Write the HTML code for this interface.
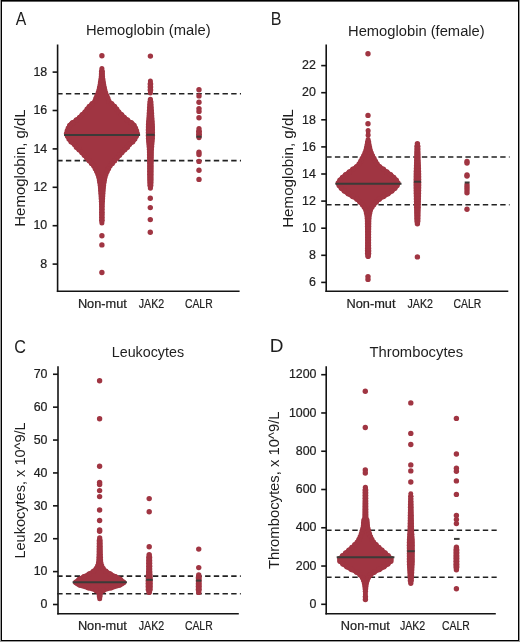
<!DOCTYPE html>
<html><head><meta charset="utf-8"><style>
html,body{margin:0;padding:0;}
body{width:520px;height:642px;background:#9a9a9a;position:relative;overflow:hidden;}
#frame{position:absolute;left:1px;top:0;width:516px;height:639px;background:#fff;border:1px solid #000;}
</style></head><body>
<div id="frame"></div><div style="position:absolute;left:2px;top:1px;width:516px;height:1px;background:#606060"></div>
<svg width="520" height="642" viewBox="0 0 520 642" style="position:absolute;left:0;top:0;will-change:transform">
<g font-family='"Liberation Sans", sans-serif' fill="#1e1e1e">
<text x="15.7" y="25.4" font-size="17.5" text-anchor="start" textLength="10.5" lengthAdjust="spacingAndGlyphs">A</text>
<text x="270.7" y="25.4" font-size="17.5" text-anchor="start" textLength="10.75" lengthAdjust="spacingAndGlyphs">B</text>
<text x="14.15" y="352.6" font-size="17.5" text-anchor="start" textLength="11.7" lengthAdjust="spacingAndGlyphs">C</text>
<text x="269.8" y="352.3" font-size="17.5" text-anchor="start" textLength="13.7" lengthAdjust="spacingAndGlyphs">D</text>
<line x1="57.6" y1="44.5" x2="57.6" y2="292.05" stroke="#141414" stroke-width="1.6"/>
<line x1="56.85" y1="291.3" x2="239.6" y2="291.3" stroke="#141414" stroke-width="1.6"/>
<line x1="52.6" y1="264.1" x2="57.6" y2="264.1" stroke="#141414" stroke-width="1.6"/>
<text x="47.2" y="267.8" font-size="12.4" text-anchor="end" stroke="#1e1e1e" stroke-width="0.22">8</text>
<line x1="52.6" y1="225.7" x2="57.6" y2="225.7" stroke="#141414" stroke-width="1.6"/>
<text x="47.2" y="229.39999999999998" font-size="12.4" text-anchor="end" stroke="#1e1e1e" stroke-width="0.22">10</text>
<line x1="52.6" y1="187.29999999999998" x2="57.6" y2="187.29999999999998" stroke="#141414" stroke-width="1.6"/>
<text x="47.2" y="190.99999999999997" font-size="12.4" text-anchor="end" stroke="#1e1e1e" stroke-width="0.22">12</text>
<line x1="52.6" y1="148.89999999999998" x2="57.6" y2="148.89999999999998" stroke="#141414" stroke-width="1.6"/>
<text x="47.2" y="152.59999999999997" font-size="12.4" text-anchor="end" stroke="#1e1e1e" stroke-width="0.22">14</text>
<line x1="52.6" y1="110.5" x2="57.6" y2="110.5" stroke="#141414" stroke-width="1.6"/>
<text x="47.2" y="114.2" font-size="12.4" text-anchor="end" stroke="#1e1e1e" stroke-width="0.22">16</text>
<line x1="52.6" y1="72.1" x2="57.6" y2="72.1" stroke="#141414" stroke-width="1.6"/>
<text x="47.2" y="75.8" font-size="12.4" text-anchor="end" stroke="#1e1e1e" stroke-width="0.22">18</text>
<text x="148.25" y="35.3" font-size="14.7" text-anchor="middle" textLength="124.7" lengthAdjust="spacingAndGlyphs">Hemoglobin (male)</text>
<text x="24.6" y="168.0" font-size="14.7" text-anchor="middle" textLength="117.4" lengthAdjust="spacingAndGlyphs" transform="rotate(-90 24.6 168.0)">Hemoglobin, g/dL</text>
<text x="102.4" y="308.0" font-size="12.5" text-anchor="middle" textLength="49" lengthAdjust="spacingAndGlyphs" stroke="#1e1e1e" stroke-width="0.22">Non-mut</text>
<text x="151.5" y="308.0" font-size="12.5" text-anchor="middle" textLength="25.4" lengthAdjust="spacingAndGlyphs" stroke="#1e1e1e" stroke-width="0.22">JAK2</text>
<text x="198.8" y="308.0" font-size="12.5" text-anchor="middle" textLength="27.7" lengthAdjust="spacingAndGlyphs" stroke="#1e1e1e" stroke-width="0.22">CALR</text>
<line x1="326.2" y1="44.5" x2="326.2" y2="292.05" stroke="#141414" stroke-width="1.6"/>
<line x1="325.45" y1="291.3" x2="508.3" y2="291.3" stroke="#141414" stroke-width="1.6"/>
<line x1="321.2" y1="282.4" x2="326.2" y2="282.4" stroke="#141414" stroke-width="1.6"/>
<text x="315.8" y="286.09999999999997" font-size="12.4" text-anchor="end" stroke="#1e1e1e" stroke-width="0.22">6</text>
<line x1="321.2" y1="255.3" x2="326.2" y2="255.3" stroke="#141414" stroke-width="1.6"/>
<text x="315.8" y="259.0" font-size="12.4" text-anchor="end" stroke="#1e1e1e" stroke-width="0.22">8</text>
<line x1="321.2" y1="228.20000000000002" x2="326.2" y2="228.20000000000002" stroke="#141414" stroke-width="1.6"/>
<text x="315.8" y="231.9" font-size="12.4" text-anchor="end" stroke="#1e1e1e" stroke-width="0.22">10</text>
<line x1="321.2" y1="201.1" x2="326.2" y2="201.1" stroke="#141414" stroke-width="1.6"/>
<text x="315.8" y="204.79999999999998" font-size="12.4" text-anchor="end" stroke="#1e1e1e" stroke-width="0.22">12</text>
<line x1="321.2" y1="174.0" x2="326.2" y2="174.0" stroke="#141414" stroke-width="1.6"/>
<text x="315.8" y="177.7" font-size="12.4" text-anchor="end" stroke="#1e1e1e" stroke-width="0.22">14</text>
<line x1="321.2" y1="146.9" x2="326.2" y2="146.9" stroke="#141414" stroke-width="1.6"/>
<text x="315.8" y="150.6" font-size="12.4" text-anchor="end" stroke="#1e1e1e" stroke-width="0.22">16</text>
<line x1="321.2" y1="119.8" x2="326.2" y2="119.8" stroke="#141414" stroke-width="1.6"/>
<text x="315.8" y="123.5" font-size="12.4" text-anchor="end" stroke="#1e1e1e" stroke-width="0.22">18</text>
<line x1="321.2" y1="92.69999999999999" x2="326.2" y2="92.69999999999999" stroke="#141414" stroke-width="1.6"/>
<text x="315.8" y="96.39999999999999" font-size="12.4" text-anchor="end" stroke="#1e1e1e" stroke-width="0.22">20</text>
<line x1="321.2" y1="65.6" x2="326.2" y2="65.6" stroke="#141414" stroke-width="1.6"/>
<text x="315.8" y="69.3" font-size="12.4" text-anchor="end" stroke="#1e1e1e" stroke-width="0.22">22</text>
<text x="416.35" y="35.5" font-size="14.7" text-anchor="middle" textLength="136.7" lengthAdjust="spacingAndGlyphs">Hemoglobin (female)</text>
<text x="292.9" y="168.5" font-size="14.7" text-anchor="middle" textLength="118.6" lengthAdjust="spacingAndGlyphs" transform="rotate(-90 292.9 168.5)">Hemoglobin, g/dL</text>
<text x="371.0" y="308.0" font-size="12.5" text-anchor="middle" textLength="49" lengthAdjust="spacingAndGlyphs" stroke="#1e1e1e" stroke-width="0.22">Non-mut</text>
<text x="420.2" y="308.0" font-size="12.5" text-anchor="middle" textLength="25.4" lengthAdjust="spacingAndGlyphs" stroke="#1e1e1e" stroke-width="0.22">JAK2</text>
<text x="467.4" y="308.0" font-size="12.5" text-anchor="middle" textLength="27.7" lengthAdjust="spacingAndGlyphs" stroke="#1e1e1e" stroke-width="0.22">CALR</text>
<line x1="58.0" y1="366.3" x2="58.0" y2="614.55" stroke="#141414" stroke-width="1.6"/>
<line x1="57.25" y1="613.8" x2="238.8" y2="613.8" stroke="#141414" stroke-width="1.6"/>
<line x1="53.0" y1="604.5" x2="58.0" y2="604.5" stroke="#141414" stroke-width="1.6"/>
<text x="47.5" y="608.2" font-size="12.4" text-anchor="end" stroke="#1e1e1e" stroke-width="0.22">0</text>
<line x1="53.0" y1="571.61" x2="58.0" y2="571.61" stroke="#141414" stroke-width="1.6"/>
<text x="47.5" y="575.3100000000001" font-size="12.4" text-anchor="end" stroke="#1e1e1e" stroke-width="0.22">10</text>
<line x1="53.0" y1="538.72" x2="58.0" y2="538.72" stroke="#141414" stroke-width="1.6"/>
<text x="47.5" y="542.4200000000001" font-size="12.4" text-anchor="end" stroke="#1e1e1e" stroke-width="0.22">20</text>
<line x1="53.0" y1="505.83" x2="58.0" y2="505.83" stroke="#141414" stroke-width="1.6"/>
<text x="47.5" y="509.53" font-size="12.4" text-anchor="end" stroke="#1e1e1e" stroke-width="0.22">30</text>
<line x1="53.0" y1="472.94" x2="58.0" y2="472.94" stroke="#141414" stroke-width="1.6"/>
<text x="47.5" y="476.64" font-size="12.4" text-anchor="end" stroke="#1e1e1e" stroke-width="0.22">40</text>
<line x1="53.0" y1="440.04999999999995" x2="58.0" y2="440.04999999999995" stroke="#141414" stroke-width="1.6"/>
<text x="47.5" y="443.74999999999994" font-size="12.4" text-anchor="end" stroke="#1e1e1e" stroke-width="0.22">50</text>
<line x1="53.0" y1="407.15999999999997" x2="58.0" y2="407.15999999999997" stroke="#141414" stroke-width="1.6"/>
<text x="47.5" y="410.85999999999996" font-size="12.4" text-anchor="end" stroke="#1e1e1e" stroke-width="0.22">60</text>
<line x1="53.0" y1="374.27" x2="58.0" y2="374.27" stroke="#141414" stroke-width="1.6"/>
<text x="47.5" y="377.96999999999997" font-size="12.4" text-anchor="end" stroke="#1e1e1e" stroke-width="0.22">70</text>
<text x="147.9" y="357.2" font-size="14.7" text-anchor="middle" textLength="72.3" lengthAdjust="spacingAndGlyphs">Leukocytes</text>
<text x="24.8" y="490.5" font-size="14.7" text-anchor="middle" textLength="136.2" lengthAdjust="spacingAndGlyphs" transform="rotate(-90 24.8 490.5)">Leukocytes, x 10^9/L</text>
<text x="102.4" y="630.0" font-size="12.5" text-anchor="middle" textLength="49" lengthAdjust="spacingAndGlyphs" stroke="#1e1e1e" stroke-width="0.22">Non-mut</text>
<text x="151.5" y="630.0" font-size="12.5" text-anchor="middle" textLength="25.4" lengthAdjust="spacingAndGlyphs" stroke="#1e1e1e" stroke-width="0.22">JAK2</text>
<text x="198.8" y="630.0" font-size="12.5" text-anchor="middle" textLength="27.7" lengthAdjust="spacingAndGlyphs" stroke="#1e1e1e" stroke-width="0.22">CALR</text>
<line x1="326.2" y1="366.3" x2="326.2" y2="614.55" stroke="#141414" stroke-width="1.6"/>
<line x1="325.45" y1="613.8" x2="495.8" y2="613.8" stroke="#141414" stroke-width="1.6"/>
<line x1="321.2" y1="604.3" x2="326.2" y2="604.3" stroke="#141414" stroke-width="1.6"/>
<text x="316.5" y="608.0" font-size="12.4" text-anchor="end" stroke="#1e1e1e" stroke-width="0.22">0</text>
<line x1="321.2" y1="566.034" x2="326.2" y2="566.034" stroke="#141414" stroke-width="1.6"/>
<text x="316.5" y="569.734" font-size="12.4" text-anchor="end" stroke="#1e1e1e" stroke-width="0.22">200</text>
<line x1="321.2" y1="527.7679999999999" x2="326.2" y2="527.7679999999999" stroke="#141414" stroke-width="1.6"/>
<text x="316.5" y="531.468" font-size="12.4" text-anchor="end" stroke="#1e1e1e" stroke-width="0.22">400</text>
<line x1="321.2" y1="489.50199999999995" x2="326.2" y2="489.50199999999995" stroke="#141414" stroke-width="1.6"/>
<text x="316.5" y="493.20199999999994" font-size="12.4" text-anchor="end" stroke="#1e1e1e" stroke-width="0.22">600</text>
<line x1="321.2" y1="451.236" x2="326.2" y2="451.236" stroke="#141414" stroke-width="1.6"/>
<text x="316.5" y="454.936" font-size="12.4" text-anchor="end" stroke="#1e1e1e" stroke-width="0.22">800</text>
<line x1="321.2" y1="412.9699999999999" x2="326.2" y2="412.9699999999999" stroke="#141414" stroke-width="1.6"/>
<text x="316.5" y="416.6699999999999" font-size="12.4" text-anchor="end" stroke="#1e1e1e" stroke-width="0.22">1000</text>
<line x1="321.2" y1="374.70399999999995" x2="326.2" y2="374.70399999999995" stroke="#141414" stroke-width="1.6"/>
<text x="316.5" y="378.40399999999994" font-size="12.4" text-anchor="end" stroke="#1e1e1e" stroke-width="0.22">1200</text>
<text x="416.3" y="357.3" font-size="14.7" text-anchor="middle" textLength="93.6" lengthAdjust="spacingAndGlyphs">Thrombocytes</text>
<text x="278.8" y="490.3" font-size="14.7" text-anchor="middle" textLength="157.6" lengthAdjust="spacingAndGlyphs" transform="rotate(-90 278.8 490.3)">Thrombocytes, x 10^9/L</text>
<text x="365.35" y="630.0" font-size="12.5" text-anchor="middle" textLength="49" lengthAdjust="spacingAndGlyphs" stroke="#1e1e1e" stroke-width="0.22">Non-mut</text>
<text x="412.6" y="630.0" font-size="12.5" text-anchor="middle" textLength="25.4" lengthAdjust="spacingAndGlyphs" stroke="#1e1e1e" stroke-width="0.22">JAK2</text>
<text x="455.9" y="630.0" font-size="12.5" text-anchor="middle" textLength="27.7" lengthAdjust="spacingAndGlyphs" stroke="#1e1e1e" stroke-width="0.22">CALR</text>
</g>
<line x1="57.2" y1="93.7" x2="241.0" y2="93.7" stroke="#222" stroke-width="1.6" stroke-dasharray="5.4 3.3"/>
<line x1="57.2" y1="160.6" x2="241.0" y2="160.6" stroke="#222" stroke-width="1.6" stroke-dasharray="5.4 3.3"/>
<line x1="326.2" y1="157.0" x2="509.6" y2="157.0" stroke="#222" stroke-width="1.6" stroke-dasharray="5.4 3.3"/>
<line x1="326.2" y1="204.7" x2="509.6" y2="204.7" stroke="#222" stroke-width="1.6" stroke-dasharray="5.4 3.3"/>
<line x1="57.2" y1="576.1" x2="240.8" y2="576.1" stroke="#222" stroke-width="1.6" stroke-dasharray="5.4 3.3"/>
<line x1="57.2" y1="593.7" x2="240.8" y2="593.7" stroke="#222" stroke-width="1.6" stroke-dasharray="5.4 3.3"/>
<line x1="326.2" y1="530.3" x2="496.7" y2="530.3" stroke="#222" stroke-width="1.6" stroke-dasharray="5.4 3.3"/>
<line x1="326.2" y1="577.3" x2="496.7" y2="577.3" stroke="#222" stroke-width="1.6" stroke-dasharray="5.4 3.3"/>
<g fill="#a03542">
<path d="M99.75,68.60 L99.45,76.30 L98.25,84.50 L97.05,90.00 L95.95,93.50 L94.95,95.00 L93.25,99.90 L89.45,103.20 L86.45,106.40 L84.25,109.70 L80.75,113.00 L77.65,116.20 L73.45,119.50 L69.45,122.00 L67.85,124.50 L66.35,127.50 L65.05,131.00 L64.25,135.00 L66.15,138.00 L67.85,141.20 L70.45,144.30 L73.55,146.60 L75.55,149.70 L79.35,153.00 L82.25,156.20 L85.95,160.30 L89.55,164.40 L92.45,167.70 L94.15,171.00 L95.85,174.20 L97.35,179.00 L98.55,187.20 L99.15,195.40 L99.65,203.50 L99.75,211.70 L99.75,223.00 L104.05,223.00 L104.05,211.70 L104.15,203.50 L104.65,195.40 L105.25,187.20 L106.45,179.00 L107.95,174.20 L109.65,171.00 L111.35,167.70 L114.25,164.40 L117.85,160.30 L121.55,156.20 L124.45,153.00 L128.25,149.70 L130.25,146.60 L133.35,144.30 L135.95,141.20 L137.65,138.00 L139.55,135.00 L138.75,131.00 L137.45,127.50 L135.95,124.50 L134.35,122.00 L130.35,119.50 L126.15,116.20 L123.05,113.00 L119.55,109.70 L117.35,106.40 L114.35,103.20 L110.55,99.90 L108.85,95.00 L107.85,93.50 L106.75,90.00 L105.55,84.50 L104.35,76.30 L104.05,68.60Z"/>
<circle cx="101.9" cy="68.6" r="2.5"/>
<circle cx="101.9" cy="223.0" r="2.5"/>
<circle cx="101.55" cy="71.31" r="2.61"/>
<circle cx="102.25" cy="71.31" r="2.61"/>
<circle cx="101.54" cy="74.02" r="2.70"/>
<circle cx="102.26" cy="74.02" r="2.70"/>
<circle cx="101.42" cy="76.73" r="2.70"/>
<circle cx="102.38" cy="76.73" r="2.70"/>
<circle cx="101.02" cy="79.44" r="2.70"/>
<circle cx="102.78" cy="79.44" r="2.70"/>
<circle cx="100.62" cy="82.14" r="2.70"/>
<circle cx="103.18" cy="82.14" r="2.70"/>
<circle cx="100.23" cy="84.85" r="2.70"/>
<circle cx="103.57" cy="84.85" r="2.70"/>
<circle cx="99.64" cy="87.56" r="2.70"/>
<circle cx="104.16" cy="87.56" r="2.70"/>
<circle cx="99.05" cy="90.27" r="2.70"/>
<circle cx="104.75" cy="90.27" r="2.70"/>
<circle cx="98.24" cy="92.98" r="2.70"/>
<circle cx="105.56" cy="92.98" r="2.70"/>
<circle cx="97.03" cy="95.69" r="2.70"/>
<circle cx="106.77" cy="95.69" r="2.70"/>
<circle cx="95.93" cy="98.40" r="2.70"/>
<circle cx="107.87" cy="98.40" r="2.70"/>
<circle cx="94.94" cy="101.11" r="2.70"/>
<circle cx="108.86" cy="101.11" r="2.70"/>
<circle cx="92.16" cy="103.81" r="2.70"/>
<circle cx="111.64" cy="103.81" r="2.70"/>
<circle cx="89.32" cy="106.52" r="2.70"/>
<circle cx="114.48" cy="106.52" r="2.70"/>
<circle cx="87.10" cy="109.23" r="2.70"/>
<circle cx="116.70" cy="109.23" r="2.70"/>
<circle cx="85.11" cy="111.94" r="2.70"/>
<circle cx="118.69" cy="111.94" r="2.70"/>
<circle cx="82.23" cy="114.65" r="2.70"/>
<circle cx="121.57" cy="114.65" r="2.70"/>
<circle cx="79.58" cy="117.36" r="2.70"/>
<circle cx="124.22" cy="117.36" r="2.70"/>
<circle cx="76.39" cy="120.07" r="2.70"/>
<circle cx="127.41" cy="120.07" r="2.70"/>
<circle cx="72.60" cy="122.78" r="2.70"/>
<circle cx="131.20" cy="122.78" r="2.70"/>
<circle cx="69.72" cy="125.48" r="2.70"/>
<circle cx="134.08" cy="125.48" r="2.70"/>
<circle cx="68.32" cy="128.19" r="2.70"/>
<circle cx="135.48" cy="128.19" r="2.70"/>
<circle cx="67.27" cy="130.90" r="2.70"/>
<circle cx="136.53" cy="130.90" r="2.70"/>
<circle cx="66.58" cy="133.61" r="2.70"/>
<circle cx="137.22" cy="133.61" r="2.70"/>
<circle cx="67.58" cy="136.32" r="2.70"/>
<circle cx="136.22" cy="136.32" r="2.70"/>
<circle cx="69.05" cy="139.03" r="2.70"/>
<circle cx="134.75" cy="139.03" r="2.70"/>
<circle cx="71.12" cy="141.74" r="2.70"/>
<circle cx="132.68" cy="141.74" r="2.70"/>
<circle cx="74.46" cy="144.45" r="2.70"/>
<circle cx="129.34" cy="144.45" r="2.70"/>
<circle cx="76.42" cy="147.15" r="2.70"/>
<circle cx="127.38" cy="147.15" r="2.70"/>
<circle cx="79.16" cy="149.86" r="2.70"/>
<circle cx="124.64" cy="149.86" r="2.70"/>
<circle cx="81.90" cy="152.57" r="2.70"/>
<circle cx="121.90" cy="152.57" r="2.70"/>
<circle cx="84.35" cy="155.28" r="2.70"/>
<circle cx="119.45" cy="155.28" r="2.70"/>
<circle cx="86.80" cy="157.99" r="2.70"/>
<circle cx="117.00" cy="157.99" r="2.70"/>
<circle cx="89.19" cy="160.70" r="2.70"/>
<circle cx="114.61" cy="160.70" r="2.70"/>
<circle cx="91.57" cy="163.41" r="2.70"/>
<circle cx="112.23" cy="163.41" r="2.70"/>
<circle cx="93.91" cy="166.12" r="2.70"/>
<circle cx="109.89" cy="166.12" r="2.70"/>
<circle cx="95.36" cy="168.82" r="2.70"/>
<circle cx="108.44" cy="168.82" r="2.70"/>
<circle cx="96.79" cy="171.53" r="2.70"/>
<circle cx="107.01" cy="171.53" r="2.70"/>
<circle cx="97.99" cy="174.24" r="2.70"/>
<circle cx="105.81" cy="174.24" r="2.70"/>
<circle cx="98.83" cy="176.95" r="2.70"/>
<circle cx="104.97" cy="176.95" r="2.70"/>
<circle cx="99.47" cy="179.66" r="2.70"/>
<circle cx="104.33" cy="179.66" r="2.70"/>
<circle cx="99.87" cy="182.37" r="2.70"/>
<circle cx="103.93" cy="182.37" r="2.70"/>
<circle cx="100.27" cy="185.08" r="2.70"/>
<circle cx="103.53" cy="185.08" r="2.70"/>
<circle cx="100.60" cy="187.79" r="2.70"/>
<circle cx="103.20" cy="187.79" r="2.70"/>
<circle cx="100.79" cy="190.49" r="2.70"/>
<circle cx="103.01" cy="190.49" r="2.70"/>
<circle cx="100.99" cy="193.20" r="2.70"/>
<circle cx="102.81" cy="193.20" r="2.70"/>
<circle cx="101.18" cy="195.91" r="2.70"/>
<circle cx="102.62" cy="195.91" r="2.70"/>
<circle cx="101.35" cy="198.62" r="2.70"/>
<circle cx="102.45" cy="198.62" r="2.70"/>
<circle cx="101.52" cy="201.33" r="2.70"/>
<circle cx="102.28" cy="201.33" r="2.70"/>
<circle cx="101.55" cy="204.04" r="2.59"/>
<circle cx="102.25" cy="204.04" r="2.59"/>
<circle cx="101.55" cy="206.75" r="2.56"/>
<circle cx="102.25" cy="206.75" r="2.56"/>
<circle cx="101.55" cy="209.46" r="2.53"/>
<circle cx="102.25" cy="209.46" r="2.53"/>
<circle cx="101.55" cy="212.16" r="2.50"/>
<circle cx="102.25" cy="212.16" r="2.50"/>
<circle cx="101.55" cy="214.87" r="2.50"/>
<circle cx="102.25" cy="214.87" r="2.50"/>
<circle cx="101.55" cy="217.58" r="2.50"/>
<circle cx="102.25" cy="217.58" r="2.50"/>
<circle cx="101.55" cy="220.29" r="2.50"/>
<circle cx="102.25" cy="220.29" r="2.50"/>
<circle cx="101.9" cy="55.8" r="2.7"/>
<circle cx="101.9" cy="235.7" r="2.7"/>
<circle cx="101.9" cy="244.9" r="2.7"/>
<circle cx="101.9" cy="272.5" r="2.7"/>
<circle cx="150.4" cy="56.1" r="2.7"/>
<path d="M148.25,80.90 L148.25,93.00 L152.55,93.00 L152.55,80.90Z"/>
<circle cx="150.4" cy="80.9" r="2.5"/>
<circle cx="150.4" cy="93.0" r="2.5"/>
<circle cx="150.05" cy="83.93" r="2.50"/>
<circle cx="150.75" cy="83.93" r="2.50"/>
<circle cx="150.05" cy="86.95" r="2.50"/>
<circle cx="150.75" cy="86.95" r="2.50"/>
<circle cx="150.05" cy="89.97" r="2.50"/>
<circle cx="150.75" cy="89.97" r="2.50"/>
<path d="M148.15,99.30 L147.95,102.70 L147.25,115.00 L146.70,122.30 L146.45,128.00 L146.45,136.00 L146.75,141.00 L147.55,150.00 L147.75,165.00 L147.85,180.00 L148.15,188.10 L152.65,188.10 L152.95,180.00 L153.05,165.00 L153.25,150.00 L154.05,141.00 L154.35,136.00 L154.35,128.00 L154.10,122.30 L153.55,115.00 L152.85,102.70 L152.65,99.30Z"/>
<circle cx="150.4" cy="99.3" r="2.6"/>
<circle cx="150.4" cy="188.1" r="2.6"/>
<circle cx="149.99" cy="102.08" r="2.70"/>
<circle cx="150.81" cy="102.08" r="2.70"/>
<circle cx="149.83" cy="104.85" r="2.70"/>
<circle cx="150.97" cy="104.85" r="2.70"/>
<circle cx="149.67" cy="107.62" r="2.70"/>
<circle cx="151.13" cy="107.62" r="2.70"/>
<circle cx="149.51" cy="110.40" r="2.70"/>
<circle cx="151.29" cy="110.40" r="2.70"/>
<circle cx="149.35" cy="113.17" r="2.70"/>
<circle cx="151.45" cy="113.17" r="2.70"/>
<circle cx="149.18" cy="115.95" r="2.70"/>
<circle cx="151.62" cy="115.95" r="2.70"/>
<circle cx="148.97" cy="118.72" r="2.70"/>
<circle cx="151.83" cy="118.72" r="2.70"/>
<circle cx="148.76" cy="121.50" r="2.70"/>
<circle cx="152.04" cy="121.50" r="2.70"/>
<circle cx="148.61" cy="124.27" r="2.70"/>
<circle cx="152.19" cy="124.27" r="2.70"/>
<circle cx="148.49" cy="127.05" r="2.70"/>
<circle cx="152.31" cy="127.05" r="2.70"/>
<circle cx="148.45" cy="129.82" r="2.70"/>
<circle cx="152.35" cy="129.82" r="2.70"/>
<circle cx="148.45" cy="132.60" r="2.70"/>
<circle cx="152.35" cy="132.60" r="2.70"/>
<circle cx="148.45" cy="135.38" r="2.70"/>
<circle cx="152.35" cy="135.38" r="2.70"/>
<circle cx="148.58" cy="138.15" r="2.70"/>
<circle cx="152.22" cy="138.15" r="2.70"/>
<circle cx="148.75" cy="140.93" r="2.70"/>
<circle cx="152.05" cy="140.93" r="2.70"/>
<circle cx="149.00" cy="143.70" r="2.70"/>
<circle cx="151.80" cy="143.70" r="2.70"/>
<circle cx="149.25" cy="146.47" r="2.70"/>
<circle cx="151.55" cy="146.47" r="2.70"/>
<circle cx="149.49" cy="149.25" r="2.70"/>
<circle cx="151.31" cy="149.25" r="2.70"/>
<circle cx="149.58" cy="152.03" r="2.70"/>
<circle cx="151.22" cy="152.03" r="2.70"/>
<circle cx="149.61" cy="154.80" r="2.70"/>
<circle cx="151.19" cy="154.80" r="2.70"/>
<circle cx="149.65" cy="157.57" r="2.70"/>
<circle cx="151.15" cy="157.57" r="2.70"/>
<circle cx="149.69" cy="160.35" r="2.70"/>
<circle cx="151.11" cy="160.35" r="2.70"/>
<circle cx="149.72" cy="163.12" r="2.70"/>
<circle cx="151.08" cy="163.12" r="2.70"/>
<circle cx="149.76" cy="165.90" r="2.70"/>
<circle cx="151.04" cy="165.90" r="2.70"/>
<circle cx="149.77" cy="168.68" r="2.70"/>
<circle cx="151.03" cy="168.68" r="2.70"/>
<circle cx="149.79" cy="171.45" r="2.70"/>
<circle cx="151.01" cy="171.45" r="2.70"/>
<circle cx="149.81" cy="174.22" r="2.70"/>
<circle cx="150.99" cy="174.22" r="2.70"/>
<circle cx="149.83" cy="177.00" r="2.70"/>
<circle cx="150.97" cy="177.00" r="2.70"/>
<circle cx="149.85" cy="179.77" r="2.70"/>
<circle cx="150.95" cy="179.77" r="2.70"/>
<circle cx="149.94" cy="182.55" r="2.70"/>
<circle cx="150.86" cy="182.55" r="2.70"/>
<circle cx="150.05" cy="185.32" r="2.70"/>
<circle cx="150.75" cy="185.32" r="2.70"/>
<circle cx="150.3" cy="198.3" r="2.7"/>
<circle cx="150.3" cy="207.6" r="2.7"/>
<circle cx="150.3" cy="219.6" r="2.7"/>
<circle cx="150.3" cy="232.2" r="2.7"/>
<circle cx="199.0" cy="89.8" r="2.7"/>
<circle cx="199.0" cy="95.9" r="2.7"/>
<circle cx="199.0" cy="102.3" r="2.7"/>
<circle cx="199.0" cy="108.6" r="2.7"/>
<circle cx="199.0" cy="111.4" r="2.7"/>
<circle cx="199.0" cy="117.7" r="2.7"/>
<circle cx="199.0" cy="152.2" r="2.7"/>
<circle cx="199.0" cy="154.5" r="2.7"/>
<circle cx="199.0" cy="161.4" r="2.7"/>
<circle cx="199.0" cy="170.3" r="2.7"/>
<circle cx="199.0" cy="179.4" r="2.7"/>
<path d="M196.75,128.60 L196.75,137.60 L201.25,137.60 L201.25,128.60Z"/>
<circle cx="199.0" cy="128.6" r="2.6"/>
<circle cx="199.0" cy="137.6" r="2.6"/>
<circle cx="198.65" cy="131.60" r="2.60"/>
<circle cx="199.35" cy="131.60" r="2.60"/>
<circle cx="198.65" cy="134.60" r="2.60"/>
<circle cx="199.35" cy="134.60" r="2.60"/>
<path d="M365.95,130.60 L365.95,135.30 L370.25,135.30 L370.25,130.60Z"/>
<circle cx="368.1" cy="130.6" r="2.5"/>
<circle cx="368.1" cy="135.3" r="2.5"/>
<path d="M365.95,139.40 L365.65,142.00 L365.05,145.60 L364.05,149.90 L362.55,153.70 L360.45,157.40 L358.65,160.80 L356.65,163.80 L352.25,166.90 L348.25,170.00 L344.05,173.10 L340.55,176.20 L337.85,179.20 L335.65,183.50 L337.45,186.90 L340.55,190.80 L345.15,194.60 L350.15,197.70 L355.45,200.80 L358.65,203.80 L361.65,206.90 L363.95,210.80 L365.05,215.40 L365.45,219.20 L365.55,223.80 L365.70,234.60 L365.70,246.90 L365.55,252.00 L365.65,256.30 L370.55,256.30 L370.65,252.00 L370.50,246.90 L370.50,234.60 L370.65,223.80 L370.75,219.20 L371.15,215.40 L372.25,210.80 L374.55,206.90 L377.55,203.80 L380.75,200.80 L386.05,197.70 L391.05,194.60 L395.65,190.80 L398.75,186.90 L400.55,183.50 L398.35,179.20 L395.65,176.20 L392.15,173.10 L387.95,170.00 L383.95,166.90 L379.55,163.80 L377.55,160.80 L375.75,157.40 L373.65,153.70 L372.15,149.90 L371.15,145.60 L370.55,142.00 L370.25,139.40Z"/>
<circle cx="368.1" cy="139.4" r="2.5"/>
<circle cx="368.1" cy="256.3" r="2.8"/>
<circle cx="367.65" cy="142.12" r="2.70"/>
<circle cx="368.55" cy="142.12" r="2.70"/>
<circle cx="367.21" cy="144.84" r="2.70"/>
<circle cx="368.99" cy="144.84" r="2.70"/>
<circle cx="366.67" cy="147.56" r="2.70"/>
<circle cx="369.53" cy="147.56" r="2.70"/>
<circle cx="366.03" cy="150.27" r="2.70"/>
<circle cx="370.17" cy="150.27" r="2.70"/>
<circle cx="365.03" cy="152.99" r="2.70"/>
<circle cx="371.17" cy="152.99" r="2.70"/>
<circle cx="363.81" cy="155.71" r="2.70"/>
<circle cx="372.39" cy="155.71" r="2.70"/>
<circle cx="362.27" cy="158.43" r="2.70"/>
<circle cx="373.93" cy="158.43" r="2.70"/>
<circle cx="360.82" cy="161.15" r="2.70"/>
<circle cx="375.38" cy="161.15" r="2.70"/>
<circle cx="359.14" cy="163.87" r="2.70"/>
<circle cx="377.06" cy="163.87" r="2.70"/>
<circle cx="356.66" cy="166.59" r="2.70"/>
<circle cx="379.54" cy="166.59" r="2.70"/>
<circle cx="352.85" cy="169.30" r="2.70"/>
<circle cx="383.35" cy="169.30" r="2.70"/>
<circle cx="349.34" cy="172.02" r="2.70"/>
<circle cx="386.86" cy="172.02" r="2.70"/>
<circle cx="345.65" cy="174.74" r="2.70"/>
<circle cx="390.55" cy="174.74" r="2.70"/>
<circle cx="342.50" cy="177.46" r="2.70"/>
<circle cx="393.70" cy="177.46" r="2.70"/>
<circle cx="339.90" cy="180.18" r="2.70"/>
<circle cx="396.30" cy="180.18" r="2.70"/>
<circle cx="338.29" cy="182.90" r="2.70"/>
<circle cx="397.91" cy="182.90" r="2.70"/>
<circle cx="339.18" cy="185.62" r="2.70"/>
<circle cx="397.02" cy="185.62" r="2.70"/>
<circle cx="341.34" cy="188.33" r="2.70"/>
<circle cx="394.86" cy="188.33" r="2.70"/>
<circle cx="344.39" cy="191.05" r="2.70"/>
<circle cx="391.81" cy="191.05" r="2.70"/>
<circle cx="348.23" cy="193.77" r="2.70"/>
<circle cx="387.97" cy="193.77" r="2.70"/>
<circle cx="352.73" cy="196.49" r="2.70"/>
<circle cx="383.47" cy="196.49" r="2.70"/>
<circle cx="357.00" cy="199.21" r="2.70"/>
<circle cx="379.20" cy="199.21" r="2.70"/>
<circle cx="359.88" cy="201.93" r="2.70"/>
<circle cx="376.32" cy="201.93" r="2.70"/>
<circle cx="362.51" cy="204.65" r="2.70"/>
<circle cx="373.69" cy="204.65" r="2.70"/>
<circle cx="364.36" cy="207.37" r="2.70"/>
<circle cx="371.84" cy="207.37" r="2.70"/>
<circle cx="365.84" cy="210.08" r="2.70"/>
<circle cx="370.36" cy="210.08" r="2.70"/>
<circle cx="366.50" cy="212.80" r="2.70"/>
<circle cx="369.70" cy="212.80" r="2.70"/>
<circle cx="367.08" cy="215.52" r="2.70"/>
<circle cx="369.12" cy="215.52" r="2.70"/>
<circle cx="367.36" cy="218.24" r="2.70"/>
<circle cx="368.84" cy="218.24" r="2.70"/>
<circle cx="367.49" cy="220.96" r="2.70"/>
<circle cx="368.71" cy="220.96" r="2.70"/>
<circle cx="367.55" cy="223.68" r="2.70"/>
<circle cx="368.65" cy="223.68" r="2.70"/>
<circle cx="367.59" cy="226.40" r="2.70"/>
<circle cx="368.61" cy="226.40" r="2.70"/>
<circle cx="367.62" cy="229.11" r="2.70"/>
<circle cx="368.58" cy="229.11" r="2.70"/>
<circle cx="367.66" cy="231.83" r="2.70"/>
<circle cx="368.54" cy="231.83" r="2.70"/>
<circle cx="367.70" cy="234.55" r="2.70"/>
<circle cx="368.50" cy="234.55" r="2.70"/>
<circle cx="367.70" cy="237.27" r="2.70"/>
<circle cx="368.50" cy="237.27" r="2.70"/>
<circle cx="367.70" cy="239.99" r="2.70"/>
<circle cx="368.50" cy="239.99" r="2.70"/>
<circle cx="367.70" cy="242.71" r="2.70"/>
<circle cx="368.50" cy="242.71" r="2.70"/>
<circle cx="367.70" cy="245.43" r="2.70"/>
<circle cx="368.50" cy="245.43" r="2.70"/>
<circle cx="367.66" cy="248.14" r="2.70"/>
<circle cx="368.54" cy="248.14" r="2.70"/>
<circle cx="367.58" cy="250.86" r="2.70"/>
<circle cx="368.62" cy="250.86" r="2.70"/>
<circle cx="367.59" cy="253.58" r="2.70"/>
<circle cx="368.61" cy="253.58" r="2.70"/>
<circle cx="368.0" cy="53.8" r="2.7"/>
<circle cx="368.0" cy="115.4" r="2.7"/>
<circle cx="368.0" cy="123.8" r="2.7"/>
<circle cx="368.0" cy="276.6" r="2.7"/>
<circle cx="368.0" cy="279.4" r="2.7"/>
<path d="M415.05,143.60 L414.75,160.00 L414.25,173.60 L414.15,185.00 L414.35,195.40 L414.75,210.00 L415.05,223.70 L419.75,223.70 L420.05,210.00 L420.45,195.40 L420.65,185.00 L420.55,173.60 L420.05,160.00 L419.75,143.60Z"/>
<circle cx="417.4" cy="143.6" r="2.7"/>
<circle cx="417.4" cy="223.7" r="2.7"/>
<circle cx="417.00" cy="146.36" r="2.70"/>
<circle cx="417.80" cy="146.36" r="2.70"/>
<circle cx="416.95" cy="149.12" r="2.70"/>
<circle cx="417.85" cy="149.12" r="2.70"/>
<circle cx="416.90" cy="151.89" r="2.70"/>
<circle cx="417.90" cy="151.89" r="2.70"/>
<circle cx="416.85" cy="154.65" r="2.70"/>
<circle cx="417.95" cy="154.65" r="2.70"/>
<circle cx="416.80" cy="157.41" r="2.70"/>
<circle cx="418.00" cy="157.41" r="2.70"/>
<circle cx="416.74" cy="160.17" r="2.70"/>
<circle cx="418.06" cy="160.17" r="2.70"/>
<circle cx="416.64" cy="162.93" r="2.70"/>
<circle cx="418.16" cy="162.93" r="2.70"/>
<circle cx="416.54" cy="165.70" r="2.70"/>
<circle cx="418.26" cy="165.70" r="2.70"/>
<circle cx="416.44" cy="168.46" r="2.70"/>
<circle cx="418.36" cy="168.46" r="2.70"/>
<circle cx="416.34" cy="171.22" r="2.70"/>
<circle cx="418.46" cy="171.22" r="2.70"/>
<circle cx="416.25" cy="173.98" r="2.70"/>
<circle cx="418.55" cy="173.98" r="2.70"/>
<circle cx="416.22" cy="176.74" r="2.70"/>
<circle cx="418.58" cy="176.74" r="2.70"/>
<circle cx="416.20" cy="179.51" r="2.70"/>
<circle cx="418.60" cy="179.51" r="2.70"/>
<circle cx="416.17" cy="182.27" r="2.70"/>
<circle cx="418.63" cy="182.27" r="2.70"/>
<circle cx="416.15" cy="185.03" r="2.70"/>
<circle cx="418.65" cy="185.03" r="2.70"/>
<circle cx="416.20" cy="187.79" r="2.70"/>
<circle cx="418.60" cy="187.79" r="2.70"/>
<circle cx="416.26" cy="190.56" r="2.70"/>
<circle cx="418.54" cy="190.56" r="2.70"/>
<circle cx="416.31" cy="193.32" r="2.70"/>
<circle cx="418.49" cy="193.32" r="2.70"/>
<circle cx="416.37" cy="196.08" r="2.70"/>
<circle cx="418.43" cy="196.08" r="2.70"/>
<circle cx="416.44" cy="198.84" r="2.70"/>
<circle cx="418.36" cy="198.84" r="2.70"/>
<circle cx="416.52" cy="201.60" r="2.70"/>
<circle cx="418.28" cy="201.60" r="2.70"/>
<circle cx="416.60" cy="204.37" r="2.70"/>
<circle cx="418.20" cy="204.37" r="2.70"/>
<circle cx="416.67" cy="207.13" r="2.70"/>
<circle cx="418.13" cy="207.13" r="2.70"/>
<circle cx="416.75" cy="209.89" r="2.70"/>
<circle cx="418.05" cy="209.89" r="2.70"/>
<circle cx="416.81" cy="212.65" r="2.70"/>
<circle cx="417.99" cy="212.65" r="2.70"/>
<circle cx="416.87" cy="215.41" r="2.70"/>
<circle cx="417.93" cy="215.41" r="2.70"/>
<circle cx="416.93" cy="218.18" r="2.70"/>
<circle cx="417.87" cy="218.18" r="2.70"/>
<circle cx="416.99" cy="220.94" r="2.70"/>
<circle cx="417.81" cy="220.94" r="2.70"/>
<circle cx="417.4" cy="256.9" r="2.7"/>
<circle cx="467.0" cy="161.5" r="2.7"/>
<circle cx="467.0" cy="163.1" r="2.7"/>
<circle cx="467.0" cy="174.9" r="2.7"/>
<circle cx="467.0" cy="176.1" r="2.7"/>
<circle cx="467.0" cy="185.0" r="2.7"/>
<circle cx="467.0" cy="187.5" r="2.7"/>
<circle cx="467.0" cy="190.0" r="2.7"/>
<circle cx="467.0" cy="192.7" r="2.7"/>
<circle cx="467.0" cy="209.2" r="2.7"/>
<path d="M97.40,538.00 L97.35,545.40 L97.15,554.60 L97.05,557.70 L96.85,561.70 L95.65,565.80 L93.45,568.50 L90.45,570.50 L87.05,572.50 L83.05,574.50 L79.35,576.50 L76.35,578.60 L73.05,581.90 L73.35,583.90 L75.95,586.00 L80.65,588.00 L87.35,590.00 L94.05,592.00 L97.35,594.00 L97.55,598.80 L101.85,598.80 L102.05,594.00 L105.35,592.00 L112.05,590.00 L118.75,588.00 L123.45,586.00 L126.05,583.90 L126.35,581.90 L123.05,578.60 L120.05,576.50 L116.35,574.50 L112.35,572.50 L108.95,570.50 L105.95,568.50 L103.75,565.80 L102.55,561.70 L102.35,557.70 L102.25,554.60 L102.05,545.40 L102.00,538.00Z"/>
<circle cx="99.7" cy="538.0" r="2.65"/>
<circle cx="99.7" cy="598.8" r="2.5"/>
<circle cx="99.35" cy="540.76" r="2.67"/>
<circle cx="100.05" cy="540.76" r="2.67"/>
<circle cx="99.35" cy="543.53" r="2.69"/>
<circle cx="100.05" cy="543.53" r="2.69"/>
<circle cx="99.33" cy="546.29" r="2.70"/>
<circle cx="100.07" cy="546.29" r="2.70"/>
<circle cx="99.27" cy="549.05" r="2.70"/>
<circle cx="100.13" cy="549.05" r="2.70"/>
<circle cx="99.21" cy="551.82" r="2.70"/>
<circle cx="100.19" cy="551.82" r="2.70"/>
<circle cx="99.15" cy="554.58" r="2.70"/>
<circle cx="100.25" cy="554.58" r="2.70"/>
<circle cx="99.06" cy="557.35" r="2.70"/>
<circle cx="100.34" cy="557.35" r="2.70"/>
<circle cx="98.93" cy="560.11" r="2.70"/>
<circle cx="100.47" cy="560.11" r="2.70"/>
<circle cx="98.62" cy="562.87" r="2.70"/>
<circle cx="100.78" cy="562.87" r="2.70"/>
<circle cx="97.81" cy="565.64" r="2.70"/>
<circle cx="101.59" cy="565.64" r="2.70"/>
<circle cx="96.31" cy="568.40" r="2.70"/>
<circle cx="103.09" cy="568.40" r="2.70"/>
<circle cx="93.61" cy="571.16" r="2.70"/>
<circle cx="105.79" cy="571.16" r="2.70"/>
<circle cx="89.25" cy="573.93" r="2.70"/>
<circle cx="110.15" cy="573.93" r="2.70"/>
<circle cx="84.00" cy="576.69" r="2.70"/>
<circle cx="115.40" cy="576.69" r="2.70"/>
<circle cx="79.11" cy="579.45" r="2.70"/>
<circle cx="120.29" cy="579.45" r="2.70"/>
<circle cx="75.84" cy="582.22" r="2.70"/>
<circle cx="123.56" cy="582.22" r="2.70"/>
<circle cx="79.72" cy="584.98" r="2.70"/>
<circle cx="119.68" cy="584.98" r="2.70"/>
<circle cx="88.32" cy="587.75" r="2.70"/>
<circle cx="111.08" cy="587.75" r="2.70"/>
<circle cx="96.10" cy="590.51" r="2.70"/>
<circle cx="103.30" cy="590.51" r="2.70"/>
<circle cx="99.18" cy="593.27" r="2.70"/>
<circle cx="100.22" cy="593.27" r="2.70"/>
<circle cx="99.35" cy="596.04" r="2.62"/>
<circle cx="100.05" cy="596.04" r="2.62"/>
<circle cx="99.6" cy="380.8" r="2.7"/>
<circle cx="99.6" cy="418.8" r="2.7"/>
<circle cx="99.6" cy="466.3" r="2.7"/>
<circle cx="99.6" cy="482.5" r="2.7"/>
<circle cx="99.6" cy="484.5" r="2.7"/>
<circle cx="99.6" cy="490.6" r="2.7"/>
<circle cx="99.6" cy="496.6" r="2.7"/>
<circle cx="99.6" cy="510.0" r="2.7"/>
<circle cx="99.6" cy="520.5" r="2.7"/>
<circle cx="99.6" cy="529.9" r="2.7"/>
<circle cx="99.6" cy="531.3" r="2.7"/>
<circle cx="149.2" cy="498.6" r="2.7"/>
<circle cx="149.2" cy="511.8" r="2.7"/>
<circle cx="149.2" cy="546.8" r="2.7"/>
<path d="M146.85,554.60 L146.75,570.00 L146.25,579.00 L146.25,589.00 L146.75,592.30 L151.65,592.30 L152.15,589.00 L152.15,579.00 L151.65,570.00 L151.55,554.60Z"/>
<circle cx="149.2" cy="554.6" r="2.7"/>
<circle cx="149.2" cy="592.3" r="2.8"/>
<circle cx="148.83" cy="557.50" r="2.70"/>
<circle cx="149.57" cy="557.50" r="2.70"/>
<circle cx="148.81" cy="560.40" r="2.70"/>
<circle cx="149.59" cy="560.40" r="2.70"/>
<circle cx="148.79" cy="563.30" r="2.70"/>
<circle cx="149.61" cy="563.30" r="2.70"/>
<circle cx="148.77" cy="566.20" r="2.70"/>
<circle cx="149.63" cy="566.20" r="2.70"/>
<circle cx="148.76" cy="569.10" r="2.70"/>
<circle cx="149.64" cy="569.10" r="2.70"/>
<circle cx="148.64" cy="572.00" r="2.70"/>
<circle cx="149.76" cy="572.00" r="2.70"/>
<circle cx="148.48" cy="574.90" r="2.70"/>
<circle cx="149.92" cy="574.90" r="2.70"/>
<circle cx="148.32" cy="577.80" r="2.70"/>
<circle cx="150.08" cy="577.80" r="2.70"/>
<circle cx="148.25" cy="580.70" r="2.70"/>
<circle cx="150.15" cy="580.70" r="2.70"/>
<circle cx="148.25" cy="583.60" r="2.70"/>
<circle cx="150.15" cy="583.60" r="2.70"/>
<circle cx="148.25" cy="586.50" r="2.70"/>
<circle cx="150.15" cy="586.50" r="2.70"/>
<circle cx="148.34" cy="589.40" r="2.70"/>
<circle cx="150.06" cy="589.40" r="2.70"/>
<circle cx="198.75" cy="549.1" r="2.7"/>
<circle cx="198.75" cy="567.6" r="2.7"/>
<path d="M196.40,574.90 L196.40,592.40 L201.10,592.40 L201.10,574.90Z"/>
<circle cx="198.75" cy="574.9" r="2.7"/>
<circle cx="198.75" cy="592.4" r="2.7"/>
<circle cx="198.40" cy="577.82" r="2.70"/>
<circle cx="199.10" cy="577.82" r="2.70"/>
<circle cx="198.40" cy="580.73" r="2.70"/>
<circle cx="199.10" cy="580.73" r="2.70"/>
<circle cx="198.40" cy="583.65" r="2.70"/>
<circle cx="199.10" cy="583.65" r="2.70"/>
<circle cx="198.40" cy="586.57" r="2.70"/>
<circle cx="199.10" cy="586.57" r="2.70"/>
<circle cx="198.40" cy="589.48" r="2.70"/>
<circle cx="199.10" cy="589.48" r="2.70"/>
<circle cx="365.3" cy="391.3" r="2.7"/>
<circle cx="365.3" cy="427.5" r="2.7"/>
<circle cx="365.3" cy="470.0" r="2.7"/>
<circle cx="365.3" cy="473.0" r="2.7"/>
<path d="M363.15,487.30 L363.15,500.00 L363.05,510.00 L362.95,517.80 L361.85,519.60 L361.45,526.70 L360.65,528.60 L359.55,533.00 L358.35,536.00 L356.45,539.80 L352.65,543.90 L348.95,547.30 L344.95,550.70 L341.25,554.00 L337.85,557.40 L337.35,560.60 L338.55,563.10 L341.55,565.80 L345.25,568.50 L349.65,571.20 L354.95,573.80 L358.75,576.50 L361.05,579.20 L362.55,583.30 L363.25,588.60 L363.55,594.00 L363.05,599.60 L367.75,599.60 L367.25,594.00 L367.55,588.60 L368.25,583.30 L369.75,579.20 L372.05,576.50 L375.85,573.80 L381.15,571.20 L385.55,568.50 L389.25,565.80 L392.25,563.10 L393.45,560.60 L392.95,557.40 L389.55,554.00 L385.85,550.70 L381.85,547.30 L378.15,543.90 L374.35,539.80 L372.45,536.00 L371.25,533.00 L370.15,528.60 L369.35,526.70 L368.95,519.60 L367.85,517.80 L367.75,510.00 L367.65,500.00 L367.65,487.30Z"/>
<circle cx="365.4" cy="487.3" r="2.6"/>
<circle cx="365.4" cy="599.6" r="2.7"/>
<circle cx="365.05" cy="490.04" r="2.60"/>
<circle cx="365.75" cy="490.04" r="2.60"/>
<circle cx="365.05" cy="492.78" r="2.60"/>
<circle cx="365.75" cy="492.78" r="2.60"/>
<circle cx="365.05" cy="495.52" r="2.60"/>
<circle cx="365.75" cy="495.52" r="2.60"/>
<circle cx="365.05" cy="498.26" r="2.60"/>
<circle cx="365.75" cy="498.26" r="2.60"/>
<circle cx="365.05" cy="501.00" r="2.61"/>
<circle cx="365.75" cy="501.00" r="2.61"/>
<circle cx="365.05" cy="503.73" r="2.64"/>
<circle cx="365.75" cy="503.73" r="2.64"/>
<circle cx="365.05" cy="506.47" r="2.66"/>
<circle cx="365.75" cy="506.47" r="2.66"/>
<circle cx="365.05" cy="509.21" r="2.69"/>
<circle cx="365.75" cy="509.21" r="2.69"/>
<circle cx="365.02" cy="511.95" r="2.70"/>
<circle cx="365.78" cy="511.95" r="2.70"/>
<circle cx="364.99" cy="514.69" r="2.70"/>
<circle cx="365.81" cy="514.69" r="2.70"/>
<circle cx="364.95" cy="517.43" r="2.70"/>
<circle cx="365.85" cy="517.43" r="2.70"/>
<circle cx="363.97" cy="520.17" r="2.70"/>
<circle cx="366.83" cy="520.17" r="2.70"/>
<circle cx="363.66" cy="522.91" r="2.70"/>
<circle cx="367.14" cy="522.91" r="2.70"/>
<circle cx="363.51" cy="525.65" r="2.70"/>
<circle cx="367.29" cy="525.65" r="2.70"/>
<circle cx="362.97" cy="528.39" r="2.70"/>
<circle cx="367.83" cy="528.39" r="2.70"/>
<circle cx="362.10" cy="531.12" r="2.70"/>
<circle cx="368.70" cy="531.12" r="2.70"/>
<circle cx="361.39" cy="533.86" r="2.70"/>
<circle cx="369.41" cy="533.86" r="2.70"/>
<circle cx="360.32" cy="536.60" r="2.70"/>
<circle cx="370.48" cy="536.60" r="2.70"/>
<circle cx="358.99" cy="539.34" r="2.70"/>
<circle cx="371.81" cy="539.34" r="2.70"/>
<circle cx="357.31" cy="542.08" r="2.70"/>
<circle cx="373.49" cy="542.08" r="2.70"/>
<circle cx="354.77" cy="544.82" r="2.70"/>
<circle cx="376.03" cy="544.82" r="2.70"/>
<circle cx="351.96" cy="547.56" r="2.70"/>
<circle cx="378.84" cy="547.56" r="2.70"/>
<circle cx="348.89" cy="550.30" r="2.70"/>
<circle cx="381.91" cy="550.30" r="2.70"/>
<circle cx="345.69" cy="553.04" r="2.70"/>
<circle cx="385.11" cy="553.04" r="2.70"/>
<circle cx="342.62" cy="555.78" r="2.70"/>
<circle cx="388.18" cy="555.78" r="2.70"/>
<circle cx="339.85" cy="558.51" r="2.70"/>
<circle cx="390.95" cy="558.51" r="2.70"/>
<circle cx="339.95" cy="561.25" r="2.70"/>
<circle cx="390.85" cy="561.25" r="2.70"/>
<circle cx="342.93" cy="563.99" r="2.70"/>
<circle cx="387.87" cy="563.99" r="2.70"/>
<circle cx="346.83" cy="566.73" r="2.70"/>
<circle cx="383.97" cy="566.73" r="2.70"/>
<circle cx="351.55" cy="569.47" r="2.70"/>
<circle cx="379.25" cy="569.47" r="2.70"/>
<circle cx="356.65" cy="572.21" r="2.70"/>
<circle cx="374.15" cy="572.21" r="2.70"/>
<circle cx="360.27" cy="574.95" r="2.70"/>
<circle cx="370.53" cy="574.95" r="2.70"/>
<circle cx="362.55" cy="577.69" r="2.70"/>
<circle cx="368.25" cy="577.69" r="2.70"/>
<circle cx="363.67" cy="580.43" r="2.70"/>
<circle cx="367.13" cy="580.43" r="2.70"/>
<circle cx="364.56" cy="583.17" r="2.70"/>
<circle cx="366.24" cy="583.17" r="2.70"/>
<circle cx="364.92" cy="585.90" r="2.70"/>
<circle cx="365.88" cy="585.90" r="2.70"/>
<circle cx="365.05" cy="588.64" r="2.50"/>
<circle cx="365.75" cy="588.64" r="2.50"/>
<circle cx="365.05" cy="591.38" r="2.35"/>
<circle cx="365.75" cy="591.38" r="2.35"/>
<circle cx="365.05" cy="594.12" r="2.21"/>
<circle cx="365.75" cy="594.12" r="2.21"/>
<circle cx="365.06" cy="596.86" r="2.46"/>
<circle cx="365.74" cy="596.86" r="2.46"/>
<circle cx="410.8" cy="402.9" r="2.7"/>
<circle cx="410.8" cy="433.4" r="2.7"/>
<circle cx="410.8" cy="444.5" r="2.7"/>
<circle cx="410.8" cy="464.9" r="2.7"/>
<circle cx="410.8" cy="470.9" r="2.7"/>
<circle cx="410.8" cy="482.0" r="2.7"/>
<path d="M408.75,493.60 L408.55,510.00 L408.15,530.00 L407.45,541.00 L407.45,562.00 L408.15,575.00 L408.55,583.30 L413.05,583.30 L413.45,575.00 L414.15,562.00 L414.15,541.00 L413.45,530.00 L413.05,510.00 L412.85,493.60Z"/>
<circle cx="410.8" cy="493.6" r="2.4"/>
<circle cx="410.8" cy="583.3" r="2.6"/>
<circle cx="410.45" cy="496.32" r="2.43"/>
<circle cx="411.15" cy="496.32" r="2.43"/>
<circle cx="410.45" cy="499.04" r="2.47"/>
<circle cx="411.15" cy="499.04" r="2.47"/>
<circle cx="410.45" cy="501.75" r="2.50"/>
<circle cx="411.15" cy="501.75" r="2.50"/>
<circle cx="410.45" cy="504.47" r="2.53"/>
<circle cx="411.15" cy="504.47" r="2.53"/>
<circle cx="410.45" cy="507.19" r="2.57"/>
<circle cx="411.15" cy="507.19" r="2.57"/>
<circle cx="410.45" cy="509.91" r="2.60"/>
<circle cx="411.15" cy="509.91" r="2.60"/>
<circle cx="410.45" cy="512.63" r="2.65"/>
<circle cx="411.15" cy="512.63" r="2.65"/>
<circle cx="410.44" cy="515.35" r="2.70"/>
<circle cx="411.16" cy="515.35" r="2.70"/>
<circle cx="410.39" cy="518.06" r="2.70"/>
<circle cx="411.21" cy="518.06" r="2.70"/>
<circle cx="410.33" cy="520.78" r="2.70"/>
<circle cx="411.27" cy="520.78" r="2.70"/>
<circle cx="410.28" cy="523.50" r="2.70"/>
<circle cx="411.32" cy="523.50" r="2.70"/>
<circle cx="410.23" cy="526.22" r="2.70"/>
<circle cx="411.37" cy="526.22" r="2.70"/>
<circle cx="410.17" cy="528.94" r="2.70"/>
<circle cx="411.43" cy="528.94" r="2.70"/>
<circle cx="410.05" cy="531.65" r="2.70"/>
<circle cx="411.55" cy="531.65" r="2.70"/>
<circle cx="409.87" cy="534.37" r="2.70"/>
<circle cx="411.73" cy="534.37" r="2.70"/>
<circle cx="409.70" cy="537.09" r="2.70"/>
<circle cx="411.90" cy="537.09" r="2.70"/>
<circle cx="409.53" cy="539.81" r="2.70"/>
<circle cx="412.07" cy="539.81" r="2.70"/>
<circle cx="409.45" cy="542.53" r="2.70"/>
<circle cx="412.15" cy="542.53" r="2.70"/>
<circle cx="409.45" cy="545.25" r="2.70"/>
<circle cx="412.15" cy="545.25" r="2.70"/>
<circle cx="409.45" cy="547.96" r="2.70"/>
<circle cx="412.15" cy="547.96" r="2.70"/>
<circle cx="409.45" cy="550.68" r="2.70"/>
<circle cx="412.15" cy="550.68" r="2.70"/>
<circle cx="409.45" cy="553.40" r="2.70"/>
<circle cx="412.15" cy="553.40" r="2.70"/>
<circle cx="409.45" cy="556.12" r="2.70"/>
<circle cx="412.15" cy="556.12" r="2.70"/>
<circle cx="409.45" cy="558.84" r="2.70"/>
<circle cx="412.15" cy="558.84" r="2.70"/>
<circle cx="409.45" cy="561.55" r="2.70"/>
<circle cx="412.15" cy="561.55" r="2.70"/>
<circle cx="409.57" cy="564.27" r="2.70"/>
<circle cx="412.03" cy="564.27" r="2.70"/>
<circle cx="409.72" cy="566.99" r="2.70"/>
<circle cx="411.88" cy="566.99" r="2.70"/>
<circle cx="409.87" cy="569.71" r="2.70"/>
<circle cx="411.73" cy="569.71" r="2.70"/>
<circle cx="410.01" cy="572.43" r="2.70"/>
<circle cx="411.59" cy="572.43" r="2.70"/>
<circle cx="410.16" cy="575.15" r="2.70"/>
<circle cx="411.44" cy="575.15" r="2.70"/>
<circle cx="410.29" cy="577.86" r="2.70"/>
<circle cx="411.31" cy="577.86" r="2.70"/>
<circle cx="410.42" cy="580.58" r="2.70"/>
<circle cx="411.18" cy="580.58" r="2.70"/>
<circle cx="456.4" cy="418.4" r="2.7"/>
<circle cx="456.4" cy="454.0" r="2.7"/>
<circle cx="456.4" cy="468.3" r="2.7"/>
<circle cx="456.4" cy="471.2" r="2.7"/>
<circle cx="456.4" cy="480.9" r="2.7"/>
<circle cx="456.4" cy="494.4" r="2.7"/>
<circle cx="456.4" cy="515.5" r="2.7"/>
<circle cx="456.4" cy="519.6" r="2.7"/>
<circle cx="456.4" cy="523.6" r="2.7"/>
<circle cx="456.4" cy="588.8" r="2.7"/>
<path d="M454.05,547.20 L454.05,569.80 L458.75,569.80 L458.75,547.20Z"/>
<circle cx="456.4" cy="547.2" r="2.7"/>
<circle cx="456.4" cy="569.8" r="2.7"/>
<circle cx="456.05" cy="550.03" r="2.70"/>
<circle cx="456.75" cy="550.03" r="2.70"/>
<circle cx="456.05" cy="552.85" r="2.70"/>
<circle cx="456.75" cy="552.85" r="2.70"/>
<circle cx="456.05" cy="555.67" r="2.70"/>
<circle cx="456.75" cy="555.67" r="2.70"/>
<circle cx="456.05" cy="558.50" r="2.70"/>
<circle cx="456.75" cy="558.50" r="2.70"/>
<circle cx="456.05" cy="561.33" r="2.70"/>
<circle cx="456.75" cy="561.33" r="2.70"/>
<circle cx="456.05" cy="564.15" r="2.70"/>
<circle cx="456.75" cy="564.15" r="2.70"/>
<circle cx="456.05" cy="566.97" r="2.70"/>
<circle cx="456.75" cy="566.97" r="2.70"/>
</g>
<line x1="64.1" y1="135.1" x2="140.1" y2="135.1" stroke="#3b3b38" stroke-width="2.0"/>
<line x1="146.4" y1="134.8" x2="154.6" y2="134.8" stroke="#3b3b38" stroke-width="2.0"/>
<line x1="196.3" y1="136.7" x2="201.6" y2="136.7" stroke="#3b3b38" stroke-width="2.0"/>
<line x1="335.4" y1="183.8" x2="401.5" y2="183.8" stroke="#3b3b38" stroke-width="2.0"/>
<line x1="414.0" y1="181.7" x2="421.0" y2="181.7" stroke="#3b3b38" stroke-width="2.0"/>
<line x1="464.7" y1="182.5" x2="469.6" y2="182.5" stroke="#3b3b38" stroke-width="2.0"/>
<line x1="72.6" y1="582.2" x2="126.9" y2="582.2" stroke="#3b3b38" stroke-width="2.0"/>
<line x1="146.2" y1="579.8" x2="152.7" y2="579.8" stroke="#3b3b38" stroke-width="2.0"/>
<line x1="196.1" y1="580.6" x2="201.3" y2="580.6" stroke="#3b3b38" stroke-width="2.0"/>
<line x1="336.7" y1="557.2" x2="394.4" y2="557.2" stroke="#3b3b38" stroke-width="2.0"/>
<line x1="407.3" y1="551.2" x2="414.7" y2="551.2" stroke="#3b3b38" stroke-width="2.0"/>
<line x1="454.0" y1="538.9" x2="459.6" y2="538.9" stroke="#3b3b38" stroke-width="2.0"/>
</svg>
</body></html>
